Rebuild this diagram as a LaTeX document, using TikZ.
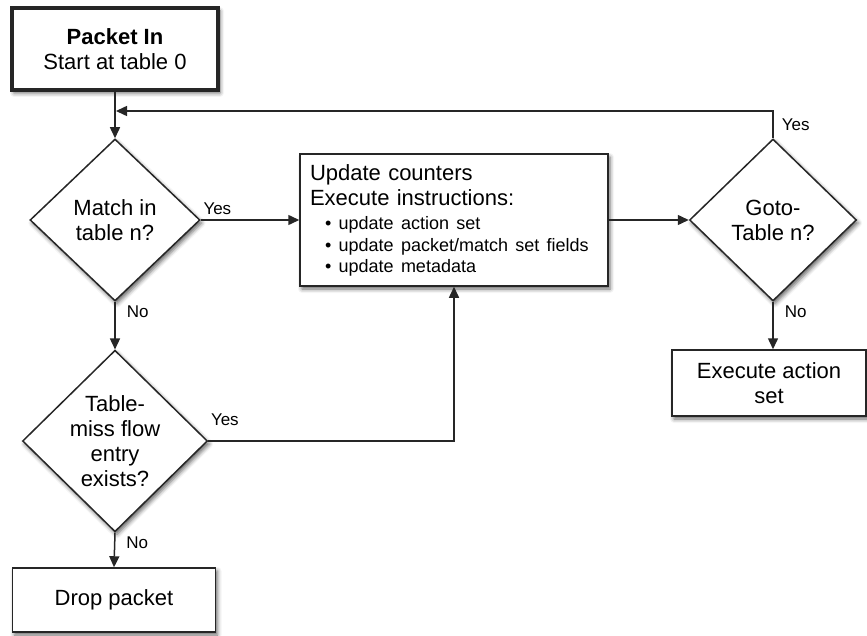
\documentclass[tikz,border=0pt]{standalone}
\usepackage{fontspec}
\setmainfont{Liberation Sans}
\usetikzlibrary{shapes.geometric,shadows.blur,arrows.meta}
\tikzset{
  box/.style={draw=black!85, rectangle, line width=1.5pt, fill=white, align=center,
    font=\fontsize{22}{25}\selectfont,
    blur shadow={shadow xshift=2pt, shadow yshift=-3pt, shadow blur radius=4pt, shadow opacity=60}},
  decision/.style={box, diamond, inner sep=0pt, shape aspect=1},
  lbl/.style={font=\fontsize{17}{20}\selectfont, inner sep=2pt},
  flow/.style={draw=black!85, line width=1.5pt, -{Triangle[length=11pt,width=10pt]}},
}
\newcommand{\updline}{\fontsize{18}{22}\selectfont\hspace*{15pt}\textbullet\ }
\begin{document}
\begin{tikzpicture}[x=1pt,y=-1pt]
  \useasboundingbox (0,0) rectangle (867,636);
  \draw
    (115,49) node[box, line width=4pt, minimum width=206pt, minimum height=82pt] (start){\textbf{Packet In}\\Start at table 0}
    (115,220) node[decision, minimum width=170pt, minimum height=162pt] (match){Match in\\table n?}
    (115,441) node[decision, minimum width=185pt, minimum height=177pt] (miss){Table-\\miss flow\\entry\\exists?}
    (114,600) node[box, minimum width=203pt, minimum height=64pt] (drop){Drop packet}
    (454,220) node[box, minimum width=308pt, minimum height=132pt, inner sep=10pt, text width=288pt, align=left] (update){Update counters\\
      Execute instructions:\\[-1pt]
      {\updline update action set}\\[-3pt]
      {\updline update packet/match set fields}\\[-4pt]
      {\updline update metadata}}
    (773,220) node[decision, minimum width=167pt, minimum height=162pt] (goto){Goto-\\Table n?}
    (769,383) node[box, minimum width=194pt, minimum height=66pt] (exec){Execute action\\set};
  \coordinate (join) at (116,111);
  \begin{scope}[flow]
    \draw (start) to (match);
    \draw (match.east) -- node[lbl, pos=0, above right, yshift=3pt]{Yes} (update.west);
    \draw (match.south) -- node[lbl, pos=.2, right, xshift=9pt]{No} (miss.north);
    \draw (miss.east) -| node[lbl, pos=0, above right, yshift=13pt]{Yes} (update.south);
    \draw (miss.south) -- node[lbl, pos=.3, right, xshift=9pt]{No} (drop.north);
    \draw (update.east) -- (goto.west);
    \draw (goto.south) -- node[lbl, pos=.2, right, xshift=9pt]{No} (goto.south |- exec.north);
    \draw (goto.north) |- node[lbl, pos=.25, right, xshift=6pt]{Yes} (join);
  \end{scope}
\end{tikzpicture}
\end{document}
